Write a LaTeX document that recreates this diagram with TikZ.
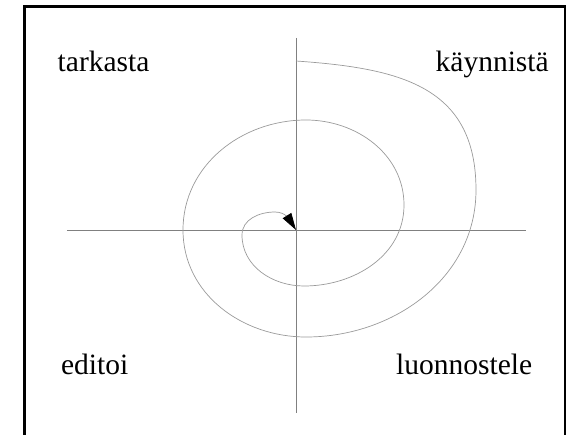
\documentclass[tikz,border=0pt]{standalone}
\usepackage{fontspec}
\setmainfont{Liberation Serif}
\usepackage{tikz}
\usetikzlibrary{arrows.meta,positioning}
\definecolor{axisgray}{HTML}{808080}
\definecolor{spiralgray}{HTML}{9A9A9A}
\tikzset{
  phaselbl/.style={inner sep=0pt,anchor=base,font=\fontsize{29.5}{32}\selectfont},
  axisline/.style={axisgray,line width=0.9pt},
  spiralline/.style={-{Triangle[length=17pt,width=10pt,black,fill=black]},spiralgray,line width=0.7pt},
  framebox/.style={black,line width=2.6pt},
}
\begin{document}
\begin{tikzpicture}[x=1pt,y=1pt]
  \useasboundingbox (-296,-204) rectangle (271,230);
  % frame, open at the bottom
  \coordinate (fBL) at (-271.5,-215);
  \coordinate (fTL) at (-271.5,223.5);
  \coordinate (fTR) at (269,223.5);
  \coordinate (fBR) at (269,-215);
  \draw[framebox] (fBL) -- (fTL) -- (fTR) -- (fBR);
  % axes
  \coordinate (cO) at (0,0);
  \coordinate (aL) at (-229,0);
  \coordinate (aR) at (230,0);
  \coordinate (aT) at (0,192);
  \coordinate (aB) at (0,-183);
  \draw[axisline] (aL) -- (aR);
  \draw[axisline] (aT) -- (aB);
  % phases
  \node[phaselbl] (nTark) at (-192.4,158.3) {tarkasta};
  \node[phaselbl] (nKayn) at (196.2,158.3) {käynnistä};
  \node[phaselbl] (nEdit) at (-201.4,-144) {editoi};
  \node[phaselbl] (nLuon) at (168.2,-144) {luonnostele};
  % spiral
  \coordinate (cS) at (0,169);
  \draw[spiralline] (cS) to[out=-4,in=90,looseness=1.2] (180,40)
    to[out=-90,in=0] (10,-107) to[out=180,in=-90] (-113,0)
    to[out=90,in=180] (10,110) to[out=0,in=90] (108,25)
    to[out=-90,in=0] (8,-56) to[out=180,in=-90] (-54,-5)
    to[out=90,in=180] (-21,18) to[out=0,in=122] (cO);
\end{tikzpicture}
\end{document}
